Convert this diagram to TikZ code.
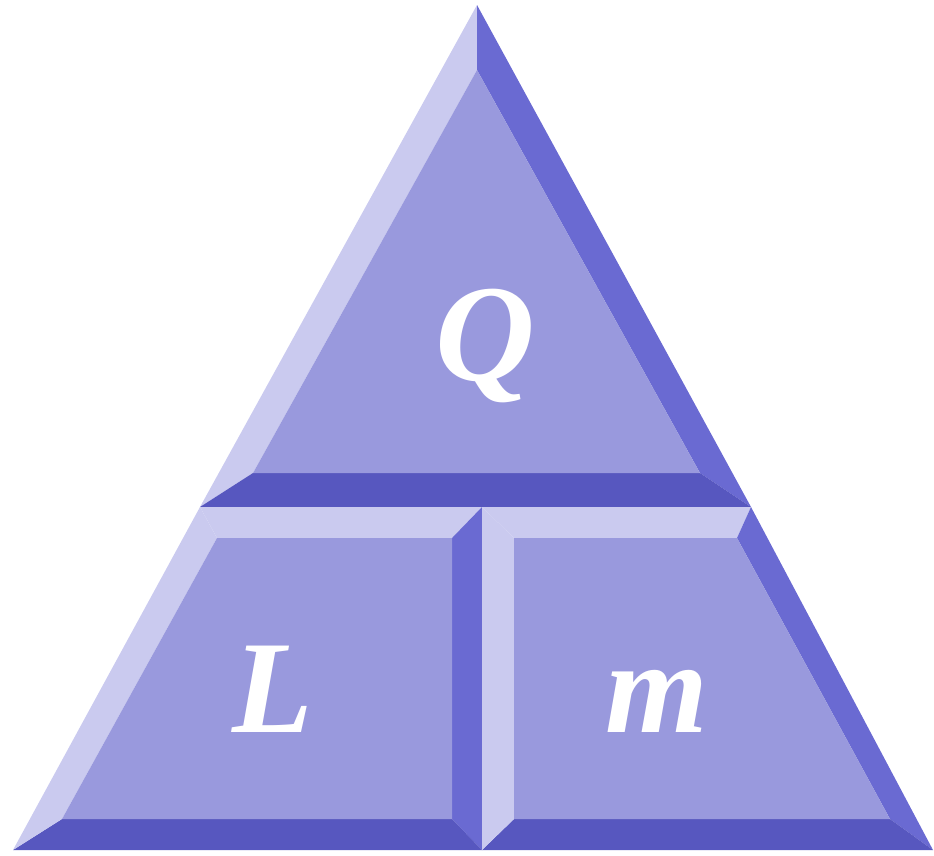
\documentclass[tikz,border=0pt]{standalone}
\usepackage{fontspec}
\setmainfont{Liberation Serif}
\definecolor{faceBlue}{HTML}{9999DD}
\definecolor{liteBlue}{HTML}{CACAEF}
\definecolor{midBlue}{HTML}{6A6AD2}
\definecolor{darkBlue}{HTML}{5757BF}

\begin{document}
\begin{tikzpicture}[x=1pt, y=-1pt,
  face/.style={fill=faceBlue},
  lite/.style={fill=liteBlue},
  mid/.style={fill=midBlue},
  dark/.style={fill=darkBlue},
  letter/.style={text=white, anchor=base, inner sep=0pt,
    font=\fontsize{132}{132}\selectfont\bfseries\itshape}]

\useasboundingbox (0,0) rectangle (934,855);

% top triangle
\coordinate (tA) at (477,5);
\coordinate (tB) at (200,507);
\coordinate (tC) at (751,507);
\coordinate (ta) at (477,70);
\coordinate (tb) at (253,473);
\coordinate (tc) at (700,473);
\fill[lite] (tA) -- (tB) -- (tb) -- (ta) -- cycle;
\fill[mid]  (tA) -- (ta) -- (tc) -- (tC) -- cycle;
\fill[dark] (tB) -- (tC) -- (tc) -- (tb) -- cycle;
\fill[face] (ta) -- (tb) -- (tc) -- cycle;

% bottom left block
\coordinate (lA) at (200,507);
\coordinate (lB) at (482,507);
\coordinate (lC) at (482,850);
\coordinate (lD) at (13,850);
\coordinate (la) at (217,538);
\coordinate (lb) at (452,538);
\coordinate (lc) at (452,819);
\coordinate (ld) at (62,819);
\fill[lite] (lA) -- (lB) -- (lb) -- (la) -- cycle;
\fill[mid]  (lB) -- (lC) -- (lc) -- (lb) -- cycle;
\fill[dark] (lC) -- (lD) -- (ld) -- (lc) -- cycle;
\fill[lite] (lD) -- (lA) -- (la) -- (ld) -- cycle;
\fill[face] (la) -- (lb) -- (lc) -- (ld) -- cycle;

% bottom right block
\coordinate (rA) at (482,507);
\coordinate (rB) at (751,507);
\coordinate (rC) at (933,850);
\coordinate (rD) at (482,850);
\coordinate (ra) at (514,538);
\coordinate (rb) at (737,538);
\coordinate (rc) at (890,819);
\coordinate (rd) at (514,819);
\fill[lite] (rA) -- (rB) -- (rb) -- (ra) -- cycle;
\fill[mid]  (rB) -- (rC) -- (rc) -- (rb) -- cycle;
\fill[dark] (rC) -- (rD) -- (rd) -- (rc) -- cycle;
\fill[lite] (rD) -- (rA) -- (ra) -- (rd) -- cycle;
\fill[face] (ra) -- (rb) -- (rc) -- (rd) -- cycle;

% letters
\node[letter, font=\fontsize{138}{138}\selectfont\bfseries\itshape] (q) at (485,380) {Q};
\node[letter] (l) at (273,732) {L};
\node[letter] (m) at (657,732) {m};

\end{tikzpicture}
\end{document}
